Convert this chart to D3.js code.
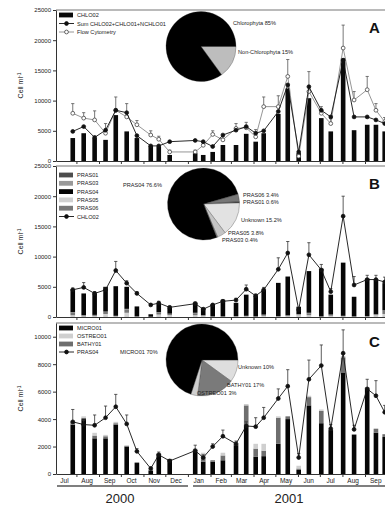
<!DOCTYPE html>
<html><head><meta charset="utf-8">
<script src="https://cdn.jsdelivr.net/npm/d3@7"></script>
<style>
html,body{margin:0;padding:0;background:#fff;overflow:hidden;}
svg{display:block;font-family:"Liberation Sans",Arial,sans-serif;}
</style></head><body>
<svg id="chart" width="385" height="505"></svg>
<script>
// Sampling dates (Jul 2000 - Sep 2001)
const sampleDates = ["2000-07-27","2000-08-11","2000-08-26","2000-09-10","2000-09-24","2000-10-09","2000-10-23","2000-11-11","2000-11-22","2000-12-07",
  "2001-01-11","2001-01-22","2001-02-04","2001-02-18","2001-03-08","2001-03-22","2001-04-04","2001-04-15","2001-05-05","2001-05-18",
  "2001-06-02","2001-06-16","2001-07-03","2001-07-16","2001-08-02","2001-08-17","2001-09-04","2001-09-16","2001-09-28"];

// Panel A: CHLO02 counts, sum of probes, flow cytometry (cells per ml)
const chlo02   = [3800,4600,3800,3500,7600,4900,3800,2500,2400,1000,1300,1000,1500,2650,2650,4500,3200,4600,7800,12000,1300,10400,7100,4900,17000,5100,6000,6000,4900];
const sumProbe = [4900,5700,3900,5100,8400,8000,4200,2500,2500,3200,3400,3200,2400,4300,5100,5700,4600,5000,8200,12600,1500,12300,8400,7300,16700,7300,7300,6800,6200];
const flowCyt  = [7900,7100,6800,4600,8400,7300,6000,4300,3600,1500,1500,2600,4400,3500,5400,5500,4000,9000,9000,14000,800,11500,7900,6200,18700,10100,11800,8400,6500];
const flowSd   = [1600,900,1500,1600,2200,2200,700,700,500,300,300,400,600,500,800,900,1200,1600,1800,2800,300,3300,1100,800,3800,1400,2200,1100,700];

// Panel B: Prasinophyceae clades (stacked) and CHLO02 total
const pras01 = [50,0,50,0,0,50,0,0,50,0,50,0,0,0,0,0,0,50,0,50,0,50,0,0,0,0,0,50,50];
const pras03 = [50,50,0,50,0,50,0,0,50,50,50,50,0,0,0,0,0,0,0,0,50,50,0,50,0,0,0,0,50];
const pras04 = [3800,3600,3550,4100,4900,3650,1650,400,1400,950,1700,1200,2000,2750,2200,3500,3450,4100,5500,6400,1200,6900,7900,3300,8800,3250,6200,5700,4500];
const pras05 = [300,100,150,500,100,700,50,0,400,300,300,150,50,50,50,100,50,200,50,150,300,300,50,200,100,50,50,300,500];
const pras06 = [400,150,150,350,100,550,50,50,300,200,300,100,50,50,100,100,50,150,100,100,150,300,50,150,100,50,100,150,500];
const chlo02Total = [4500,4900,3900,4500,7700,5600,3900,2000,2300,1600,2200,1300,2000,2600,2800,4600,3500,4500,7900,10600,1200,10300,7800,4200,16700,5300,6200,6200,5800];
const chlo02Sd    = [300,800,300,300,1500,400,300,200,300,200,300,200,200,300,300,700,300,400,1900,1900,300,2000,900,500,3300,1400,700,700,800];

// Panel C: PRAS04 sub-clades (stacked) and PRAS04 total
const micro01  = [3600,4000,2600,2600,3600,2000,800,250,1450,1050,1600,900,900,1000,2100,3500,1250,1300,2200,4000,300,5000,3700,3200,7400,2850,6200,3000,2700];
const bathy01  = [200,100,200,150,100,50,50,50,50,50,150,300,100,350,100,1500,600,400,1900,200,100,600,900,50,1100,50,100,300,200];
const ostreo01 = [100,100,200,100,100,50,0,0,0,0,100,350,0,200,0,100,350,500,100,0,200,100,100,0,100,0,0,0,0];
const pras04Sd = [900,300,750,850,900,650,200,100,200,100,400,200,200,450,200,300,650,750,700,1200,300,1400,1500,300,1700,300,700,1100,500];

// Pie compositions (percent)
const pieA = [{name:"Non-Chlorophyta", label:"Non-Chlorophyta 15%", value:15, color:"#bdbdbd"},
              {name:"Chlorophyta", label:"Chlorophyta 85%", value:85, color:"#000"}];
const pieB = [{name:"PRAS06", label:"PRAS06 3.4%", value:3.4, color:"#777"},
              {name:"PRAS01", label:"PRAS01 0.6%", value:0.6, color:"#4d4d4d"},
              {name:"Unknown", label:"Unknown 15.2%", value:15.2, color:"#e2e2e2"},
              {name:"PRAS05", label:"PRAS05 3.8%", value:3.8, color:"#c4c4c4"},
              {name:"PRAS03", label:"PRAS03 0.4%", value:0.4, color:"#999"},
              {name:"PRAS04", label:"PRAS04 76.6%", value:76.6, color:"#000"}];
const pieC = [{name:"Unknown", label:"Unknown 10%", value:10, color:"#dedede"},
              {name:"BATHY01", label:"BATHY01 17%", value:17, color:"#7a7a7a"},
              {name:"OSTREO01", label:"OSTREO01 3%", value:3, color:"#cfcfcf"},
              {name:"MICRO01", label:"MICRO01 70%", value:70, color:"#000"}];

const monthLabels = ["Jul","Aug","Sep","Oct","Nov","Dec","Jan","Feb","Mar","Apr","May","Jun","Jul","Aug","Sep"];
const years = ["2000","2001"];

const svg = d3.select("#chart");
const parse = d3.timeParse("%Y-%m-%d");
const dates = sampleDates.map(parse);
const x = d3.scaleTime().domain([new Date(2000,6,4), new Date(2001,9,19)]).range([56,400]);
const barW = 4.6;
const right = 400;

function makePanel(top, bottom, ymax, tickStep, showMonths) {
  const y = d3.scaleLinear().domain([0, ymax]).range([bottom, top]);
  const g = svg.append("g");
  g.append("line").attr("x1",56).attr("x2",right).attr("y1",top).attr("y2",top)
    .attr("stroke","#777").attr("stroke-width",1.2);
  const ya = g.append("g").attr("transform","translate(56,0)")
    .call(d3.axisLeft(y).tickValues(d3.range(0, ymax+1, tickStep)).tickSize(3).tickSizeOuter(0).tickPadding(2).tickFormat(d3.format("d")));
  ya.selectAll("text").attr("font-size",6).attr("fill","#222");
  ya.selectAll("line,path").attr("stroke","#333");
  const xa = g.append("g").attr("transform",`translate(0,${bottom})`)
    .call(d3.axisBottom(x).ticks(d3.timeMonth.every(1)).tickSize(3).tickSizeOuter(0).tickFormat(""));
  xa.selectAll("line,path").attr("stroke","#333");
  if (showMonths) {
    const mids = d3.timeMonth.range(new Date(2000,6,1), new Date(2001,9,1)).map(d => d3.timeDay.offset(d,14));
    const ma = g.append("g").attr("transform",`translate(0,${bottom})`)
      .call(d3.axisBottom(x).tickValues(mids).tickSize(0).tickPadding(4).tickFormat((d,i)=>monthLabels[i]));
    ma.select("path").remove();
    ma.selectAll("text").attr("font-size",6.5).attr("fill","#222");
  }
  g.append("text").attr("transform",`translate(23,${(top+bottom)/2}) rotate(-90)`)
    .attr("text-anchor","middle").attr("font-size",7).attr("fill","#222")
    .text("Cell ml").append("tspan").attr("dy",-2.5).attr("font-size",5).text("-1");
  return {g, y};
}

function errorBars(g, y, vals, sds, color) {
  const eb = g.append("g").attr("stroke",color).attr("stroke-width",0.8);
  vals.forEach((v,i) => {
    const cx = x(dates[i]), y0 = y(v), y1 = y(v + sds[i]);
    eb.append("line").attr("x1",cx).attr("x2",cx).attr("y1",y0).attr("y2",y1);
    eb.append("line").attr("x1",cx-1.6).attr("x2",cx+1.6).attr("y1",y1).attr("y2",y1);
  });
}

function lineSeries(g, y, vals, stroke, fill, markerStroke) {
  const line = d3.line().x((d,i)=>x(dates[i])).y(d=>y(d));
  g.append("path").datum(vals).attr("d",line).attr("fill","none").attr("stroke",stroke).attr("stroke-width",0.9);
  g.selectAll(null).data(vals).enter().append("circle")
    .attr("cx",(d,i)=>x(dates[i])).attr("cy",d=>y(d)).attr("r",1.9)
    .attr("fill",fill).attr("stroke",markerStroke).attr("stroke-width",0.8);
}

function stackedBars(g, y, keys, series, colors) {
  const rows = dates.map((d,i) => { const r = {date:d}; keys.forEach((k,j)=> r[k] = series[j][i]); return r; });
  const st = d3.stack().keys(keys)(rows);
  st.forEach((layer,j) => {
    g.append("g").attr("fill",colors[j]).selectAll("rect").data(layer).enter().append("rect")
      .attr("x",d=>x(d.data.date)-barW/2).attr("width",barW)
      .attr("y",d=>y(d[1])).attr("height",d=>Math.max(0,y(d[0])-y(d[1])));
  });
}

function drawPie(data, cx, cy, r, start, labels) {
  const pie = d3.pie().sort(null).value(d=>d.value).startAngle(start).endAngle(start+2*Math.PI);
  const arc = d3.arc().innerRadius(0).outerRadius(r);
  const pg = svg.append("g").attr("transform",`translate(${cx},${cy})`);
  pg.selectAll("path").data(pie(data)).enter().append("path").attr("d",arc)
    .attr("fill",d=>d.data.color).attr("stroke","#333").attr("stroke-width",0.3);
  labels.forEach(l => {
    svg.append("text").attr("x",l.x).attr("y",l.y).attr("font-size",5.6).attr("fill","#222").text(data.find(d=>d.name===l.name).label);
  });
}

function legend(items, x0, y0, dy) {
  const lg = svg.append("g");
  items.forEach((it,i) => {
    const yy = y0 + i*dy;
    if (it.type === "rect") {
      lg.append("rect").attr("x",x0).attr("y",yy-2.4).attr("width",14).attr("height",4.8).attr("fill",it.color);
    } else {
      lg.append("line").attr("x1",x0).attr("x2",x0+15).attr("y1",yy).attr("y2",yy).attr("stroke",it.stroke).attr("stroke-width",0.9);
      lg.append("circle").attr("cx",x0+7.5).attr("cy",yy).attr("r",1.9).attr("fill",it.fill).attr("stroke",it.markerStroke).attr("stroke-width",0.8);
    }
    lg.append("text").attr("x",x0+18).attr("y",yy+2).attr("font-size",5.6).attr("fill","#222").text(it.label);
  });
}

// ---- Panel A ----
const A = makePanel(10, 161, 25000, 5000, false);
A.g.append("g").attr("fill","#0a0a0a").selectAll("rect").data(chlo02).enter().append("rect")
  .attr("x",(d,i)=>x(dates[i])-barW/2).attr("width",barW).attr("y",d=>A.y(d)).attr("height",d=>A.y(0)-A.y(d));
errorBars(A.g, A.y, flowCyt, flowSd, "#555");
lineSeries(A.g, A.y, flowCyt, "#8a8a8a", "#fff", "#444");
lineSeries(A.g, A.y, sumProbe, "#111", "#111", "#111");
drawPie(pieA, 201, 46.5, 35, Math.PI/2, [{name:"Chlorophyta", x:233, y:25},{name:"Non-Chlorophyta", x:238, y:54}]);
legend([{type:"rect", color:"#0a0a0a", label:"CHLO02"},
        {type:"line", stroke:"#111", fill:"#111", markerStroke:"#111", label:"Sum CHLO02+CHLO01+NCHLO01"},
        {type:"line", stroke:"#8a8a8a", fill:"#fff", markerStroke:"#444", label:"Flow Cytometry"}], 59, 15, 8.5);

// ---- Panel B ----
const B = makePanel(166, 317, 25000, 5000, false);
stackedBars(B.g, B.y, ["PRAS05","PRAS06","PRAS01","PRAS03","PRAS04"], [pras05,pras06,pras01,pras03,pras04], ["#d0d0d0","#777","#4d4d4d","#999","#050505"]);
errorBars(B.g, B.y, chlo02Total, chlo02Sd, "#333");
lineSeries(B.g, B.y, chlo02Total, "#111", "#111", "#111");
drawPie(pieB, 203.5, 204, 36, 74*Math.PI/180, [
  {name:"PRAS04", x:123, y:187},{name:"PRAS06", x:243, y:197},{name:"PRAS01", x:243, y:203.5},
  {name:"Unknown", x:241, y:222},{name:"PRAS05", x:228, y:235},{name:"PRAS03", x:222, y:241.5}]);
legend([{type:"rect", color:"#4d4d4d", label:"PRAS01"},
        {type:"rect", color:"#999", label:"PRAS03"},
        {type:"rect", color:"#050505", label:"PRAS04"},
        {type:"rect", color:"#d0d0d0", label:"PRAS05"},
        {type:"rect", color:"#777", label:"PRAS06"},
        {type:"line", stroke:"#111", fill:"#111", markerStroke:"#111", label:"CHLO02"}], 59, 175, 8.3);

// ---- Panel C ----
const C = makePanel(323, 474, 11000, 2000, true);
stackedBars(C.g, C.y, ["MICRO01","BATHY01","OSTREO01"], [micro01,bathy01,ostreo01], ["#050505","#6e6e6e","#cfcfcf"]);
errorBars(C.g, C.y, pras04, pras04Sd, "#333");
lineSeries(C.g, C.y, pras04, "#111", "#111", "#111");
drawPie(pieC, 202, 360, 36, Math.PI/2, [
  {name:"MICRO01", x:120, y:354},{name:"Unknown", x:238, y:369},{name:"BATHY01", x:227, y:387},{name:"OSTREO01", x:197, y:395}]);
legend([{type:"rect", color:"#050505", label:"MICRO01"},
        {type:"rect", color:"#cfcfcf", label:"OSTREO01"},
        {type:"rect", color:"#6e6e6e", label:"BATHY01"},
        {type:"line", stroke:"#111", fill:"#111", markerStroke:"#111", label:"PRAS04"}], 59, 328, 8);

// Panel letters
[["A",33],["B",189],["C",347]].forEach(([t,yy]) =>
  svg.append("text").attr("x",369).attr("y",yy).attr("font-size",15).attr("font-weight","bold").attr("fill","#111").text(t));

// Year brackets under the month axis
const yearSpans = [[57,188],[193,right]];
yearSpans.forEach(([a,b],i) => {
  svg.append("line").attr("x1",a).attr("x2",b).attr("y1",486).attr("y2",486).attr("stroke","#555").attr("stroke-width",1.4);
  svg.append("text").attr("x",i===0?120:289).attr("y",503).attr("text-anchor","middle").attr("font-size",13).attr("fill","#222").text(years[i]);
});
</script>
</body></html>
